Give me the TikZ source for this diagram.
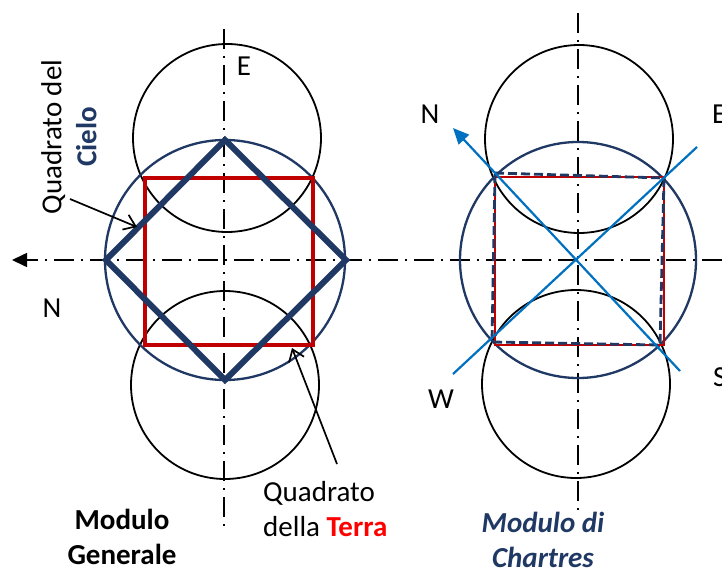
\documentclass[tikz,border=0pt]{standalone}
\usepackage{fontspec}
\setmainfont{Carlito}
\usepackage{tikz}
\usetikzlibrary{arrows.meta}
\definecolor{navy}{RGB}{31,56,100}
\definecolor{rosso}{RGB}{192,0,0}
\definecolor{rossovivo}{RGB}{255,0,0}
\definecolor{azzurro}{RGB}{0,112,192}

\begin{document}
\begin{tikzpicture}[
    x=1pt, y=-1pt,
    font=\fontsize{29}{35}\selectfont,
    asse/.style={black, line width=1.6pt, dash pattern=on 20pt off 7pt on 2pt off 7pt},
    cerchio/.style={black, line width=1.8pt},
    cerchiogrande/.style={draw=navy, line width=2.3pt},
    quadrato/.style={draw=rosso, line width=4.5pt},
    freccia/.style={black, line width=1.7pt, -{Straight Barb[length=11pt,width=16pt]}},
    etichetta/.style={inner sep=0pt}
  ]
    \useasboundingbox[fill=white] (0,0) rectangle (722,567);

    % centri dei cerchi
    \coordinate (G) at (225,260);
    \coordinate (Gsu) at (227,138);
    \coordinate (Ggiu) at (225,385);
    \coordinate (C) at (578,260);
    \coordinate (Csu) at (579,139);
    \coordinate (Cgiu) at (576,384);

    % assi
    \coordinate (ovest) at (12,260);
    \coordinate (est) at (722,260);
    \draw[asse, -{Triangle[length=15pt,width=14pt]}] (est) -- (ovest);
    \draw[asse] (224,29) -- (224,528);
    \draw[asse] (578,13) -- (578,512);

    % modulo generale
    \draw[cerchio] (Gsu) circle[radius=94pt];
    \draw[cerchio] (Ggiu) circle[radius=94pt];
    \draw[cerchiogrande] (G) circle[radius=120pt];
    \draw[quadrato] (145,178) rectangle (313,345);
    \draw[navy, line width=6pt] (225,140) -- (346,260) -- (225,380) -- (106,260) -- cycle;

    % modulo di Chartres
    \draw[cerchio] (Csu) circle[radius=94pt];
    \draw[cerchio] (Cgiu) circle[radius=94pt];
    \draw[cerchiogrande] (C) circle[radius=118pt];
    \draw[rosso, line width=2.8pt] (495,177) rectangle (664,345);
    \draw[navy, line width=2.8pt, dash pattern=on 9pt off 4pt]
      (495,173) -- (664,178) -- (660,345) -- (492,342) -- cycle;
    \coordinate (Npunta) at (453,128);
    \coordinate (Scoda) at (680,371);
    \draw[azzurro, line width=2.2pt, -{Triangle[length=16pt,width=14pt]}] (Scoda) -- (Npunta);
    \draw[azzurro, line width=2.2pt] (453,374) -- (697,147);

    % punti cardinali
    \node[etichetta] (Esx) at (244,66) {E};
    \node[etichetta] (Nsx) at (52,308) {N};
    \node[etichetta] (Ndx) at (430,114) {N};
    \node[etichetta, anchor=west] (Edx) at (712,114) {E};
    \node[etichetta] (Wdx) at (441,399) {W};
    \node[etichetta, anchor=west] (Sdx) at (713,377) {S};

    % didascalie
    \node[etichetta, rotate=90, align=center] (cielo) at (69,137)
      {Quadrato del\\\textcolor{navy}{\bfseries Cielo}};
    \node[etichetta, align=left, anchor=west] (terra) at (263,509)
      {Quadrato\\della \textcolor{rossovivo}{\bfseries Terra}};
    \node[etichetta, align=center, font=\fontsize{29}{35}\selectfont\bfseries] (generale) at (122,537)
      {Modulo\\Generale};
    \node[etichetta, align=center, text=navy, font=\fontsize{29}{35}\selectfont\bfseries\itshape] (chartres) at (543,540)
      {Modulo di\\Chartres};

    % frecce delle didascalie
    \coordinate (cielo0) at (70,199);
    \coordinate (cielo1) at (137,227);
    \draw[freccia] (cielo0) -- (cielo1);
    \coordinate (terra0) at (337,464);
    \coordinate (terra1) at (292,348);
    \draw[freccia] (terra0) -- (terra1);
\end{tikzpicture}
\end{document}
